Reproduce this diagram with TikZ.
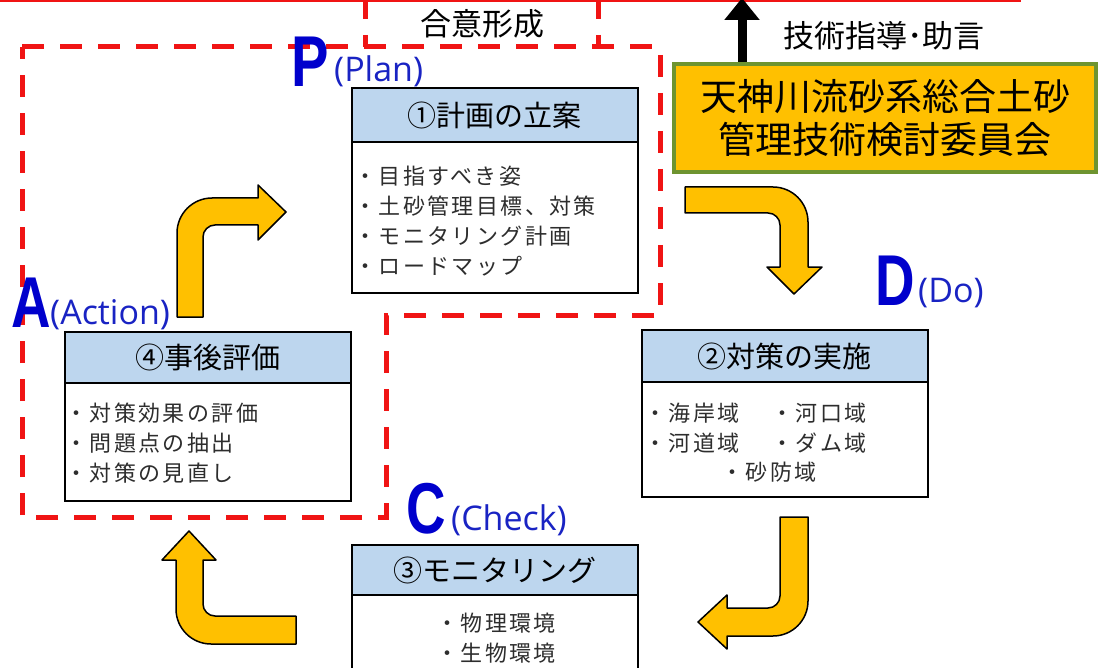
\documentclass[tikz,border=0pt]{standalone}
\usepackage{fontspec}
\setmainfont{Noto Sans CJK JP}
\newfontfamily\itemfont[LetterSpace=11]{Noto Sans CJK JP}
\newfontfamily\cjkfont{Noto Sans CJK JP}
\newfontfamily\latfont{Open Sans}
\newfontfamily\bigfont{Liberation Sans}
\usetikzlibrary{arrows.meta}
\definecolor{hdrblue}{RGB}{189,214,238}
\definecolor{ayellow}{RGB}{255,192,0}
\definecolor{gborder}{RGB}{110,148,48}
\definecolor{pblue}{RGB}{0,0,204}
\definecolor{pblue2}{RGB}{25,35,195}
\definecolor{itemgray}{RGB}{45,45,45}
\definecolor{dred}{RGB}{240,20,20}
\begin{document}
\begin{tikzpicture}[x=1pt,y=-1pt,
  hdr/.style={draw=black, line width=2pt, fill=hdrblue, minimum width=286pt, inner sep=0pt, font=\fontsize{29}{32}\selectfont},
  bodybox/.style={draw=black, line width=2pt, fill=white, minimum width=286pt, inner sep=0pt},
  yarrow/.style={draw=black, line width=1.5pt, fill=ayellow, line join=round},
  regiondash/.style={draw=dred, line width=5pt, dash pattern=on 22pt off 16pt},
  bigletter/.style={text=pblue, inner sep=0pt, anchor=base west, font=\bigfont\bfseries\fontsize{72}{72}\selectfont},
  paren/.style={text=pblue2, inner sep=0pt, anchor=base west, font=\latfont\fontsize{34}{36}\selectfont},
  itemtext/.style={text=itemgray, inner sep=0pt, anchor=west, align=left, font=\itemfont\fontsize{22}{30}\selectfont},
  committee/.style={draw=gborder, line width=4pt, fill=ayellow, minimum width=422pt, minimum height=108pt, align=center, inner sep=0pt, font=\fontsize{37}{43}\selectfont},
  lbl/.style={inner sep=0pt, font=\fontsize{31}{34}\selectfont},
  blackarrow/.style={draw=black, line width=9pt, -{Triangle[width=34pt,length=22pt]}},
  topline/.style={draw=dred, line width=2pt}
]
\useasboundingbox (0,0) rectangle (1102,668);

% top red line
\coordinate (tl) at (0,1);
\coordinate (tr) at (1021,1);
\draw[topline] (tl) -- (tr);

% red dashed regions
\draw[regiondash] (22,47) -- (660,47) -- (660,315) -- (386,315) -- (386,517) -- (22,517) -- cycle;
\draw[regiondash] (365,-3) -- (365,47);
\draw[regiondash] (598,-3) -- (598,47);
\node[lbl] (consensus) at (482,24) {合意形成};

% committee box and arrow
\node[committee] (gbox) at (885,118) {天神川流砂系総合土砂\\管理技術検討委員会};
\coordinate (up) at (742,-2);
\draw[blackarrow] (gbox.north -| up) -- (up);
\node[lbl] (advice) at (884,36) {技術指導･助言};

% Box 1 (Plan)
\node[bodybox, minimum height=151pt] (b1) at (494.5,217.5) {};
\node[hdr, minimum height=54pt] (h1) at (494.5,115) {①計画の立案};
\node[itemtext] (l1) at (354,221) {・目指すべき姿\\・土砂管理目標、対策\\・モニタリング計画\\・ロードマップ};

% Box 4 (Action)
\node[bodybox, minimum height=118pt] (b4) at (208,442) {};
\node[hdr, minimum height=51pt] (h4) at (208,357.5) {④事後評価};
\node[itemtext] (l4) at (65,443) {・対策効果の評価\\・問題点の抽出\\・対策の見直し};

% Box 2 (Do)
\node[bodybox, minimum height=115pt] (b2) at (784.5,439.5) {};
\node[hdr, minimum height=52pt] (h2) at (784.5,356) {②対策の実施};
\node[itemtext] (d1) at (644,413) {・海岸域};
\node[itemtext] (d2) at (771,413) {・河口域};
\node[itemtext] (d3) at (644,443) {・河道域};
\node[itemtext] (d4) at (771,443) {・ダム域};
\node[itemtext] (d5) at (721,472) {・砂防域};

% Box 3 (Check)
\node[bodybox, minimum height=100pt] (b3) at (494.5,645) {};
\node[hdr, minimum height=50pt] (h3) at (494.5,570) {③モニタリング};
\node[itemtext] (l3) at (436,638.5) {・物理環境\\・生物環境};

% PDCA letters
\node[bigletter] (P) at (291,87) {\scalebox{0.78}[1]{P}};
\node[paren] (Pt) at (334,82) {(Plan)};
\node[bigletter] (A) at (11,327) {\scalebox{0.76}[1]{A}};
\node[paren] (At) at (50,324) {(Action)};
\node[bigletter] (D) at (875,305) {\scalebox{0.76}[1]{D}};
\node[paren] (Dt) at (918,302) {(Do)};
\node[bigletter] (C) at (406,533) {\scalebox{0.76}[1]{C}};
\node[paren] (Ct) at (451,530) {(Check)};

% yellow cycle arrows
% A -> P
\draw[yarrow] (177,317) -- (177,233) .. controls (177,213.7) and (192.7,198) .. (212,198) -- (258,198) -- (258,185) -- (286,212) -- (258,240) -- (258,225) -- (215,225) .. controls (208.4,225) and (203,230.4) .. (203,237) -- (203,317) -- cycle;
% P -> D
\draw[yarrow] (685,187) -- (773,187) .. controls (792.3,187) and (808,202.7) .. (808,222) -- (808,267) -- (822,267) -- (794,294) -- (767,267) -- (780,267) -- (780,225) .. controls (780,218.4) and (774.6,213) .. (768,213) -- (685,213) -- cycle;
% D -> C
\draw[yarrow] (780,517) -- (808,517) -- (808,601) .. controls (808,620.3) and (792.3,636) .. (773,636) -- (727,636) -- (727,649) -- (698,622) -- (727,595) -- (727,608) -- (768,608) .. controls (774.6,608) and (780,602.6) .. (780,596) -- cycle;
% C -> A
\draw[yarrow] (189,531) -- (216,560) -- (203,560) -- (203,604) .. controls (203,610.6) and (208.4,616) .. (215,616) -- (296,616) -- (296,644) -- (211,644) .. controls (191.7,644) and (176,628.3) .. (176,609) -- (176,560) -- (162,560) -- cycle;
\end{tikzpicture}
\end{document}
